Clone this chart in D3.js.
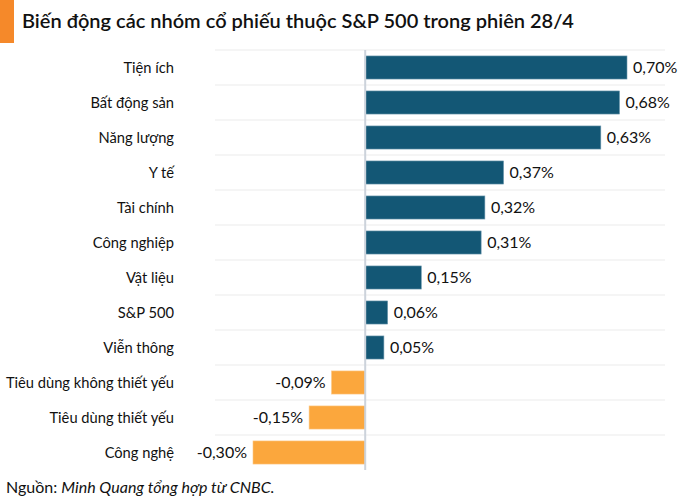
<!DOCTYPE html>
<html>
<head>
<meta charset="utf-8">
<script src="https://cdn.jsdelivr.net/npm/d3@7"></script>
<style>
  body { margin: 0; background: #fff; }
  svg { font-family: Lato, "Open Sans", sans-serif; }
</style>
</head>
<body>
<div id="chart"></div>
<script>
var svgWidth = 700;
var svgHeight = 503;

var categories = ["Tiện ích", "Bất động sản", "Năng lượng", "Y tế", "Tài chính", "Công nghiệp",
  "Vật liệu", "S&P 500", "Viễn thông", "Tiêu dùng không thiết yếu", "Tiêu dùng thiết yếu", "Công nghệ"];
var values = [0.70, 0.68, 0.63, 0.37, 0.32, 0.31, 0.15, 0.06, 0.05, -0.09, -0.15, -0.30];
var valueLabels = ["0,70%", "0,68%", "0,63%", "0,37%", "0,32%", "0,31%", "0,15%", "0,06%", "0,05%",
  "-0,09%", "-0,15%", "-0,30%"];

var data = categories.map((c, i) => ({ name: c, value: values[i], label: valueLabels[i] }));

var margin = { top: 50, bottom: 33, gridLeft: 215, gridRight: 665 };

var svg = d3.select("#chart")
  .append("svg")
  .attr("width", svgWidth)
  .attr("height", svgHeight);

// title block
svg.append("rect")
  .attr("x", 0).attr("y", 0)
  .attr("width", 14).attr("height", 43)
  .attr("fill", "#f5892a");

svg.append("text")
  .attr("x", 22).attr("y", 28)
  .attr("font-size", 20)
  .attr("font-weight", 600)
  .attr("fill", "#111")
  .text("Biến động các nhóm cổ phiếu thuộc S&P 500 trong phiên 28/4");

// scales
var x = d3.scaleLinear()
  .domain([-0.30, 0.70])
  .range([253, 627]);

var y = d3.scaleBand()
  .domain(categories)
  .range([margin.top, svgHeight - margin.bottom])
  .paddingInner(0.34)
  .paddingOuter(0.17);

var step = y.step();

// grid lines between rows
var gridYs = d3.range(categories.length).map(i => margin.top + i * step);
svg.append("g")
  .selectAll("line")
  .data(gridYs)
  .enter()
  .append("line")
  .attr("x1", margin.gridLeft)
  .attr("x2", margin.gridRight)
  .attr("y1", d => d)
  .attr("y2", d => d)
  .attr("stroke", "#ebebeb")
  .attr("stroke-width", 1);

// bars
svg.append("g")
  .selectAll("rect")
  .data(data)
  .enter()
  .append("rect")
  .attr("x", d => x(Math.min(0, d.value)))
  .attr("y", d => y(d.name))
  .attr("width", d => Math.abs(x(d.value) - x(0)))
  .attr("height", y.bandwidth())
  .attr("fill", d => d.value >= 0 ? "#135775" : "#fba73d")
  .attr("stroke", d => d.value >= 0 ? "#6f9ab0" : "#fcc783")
  .attr("stroke-width", 0.6);

// zero line
svg.append("line")
  .attr("x1", x(0)).attr("x2", x(0))
  .attr("y1", margin.top)
  .attr("y2", svgHeight - margin.bottom)
  .attr("stroke", "#ccd3db")
  .attr("stroke-width", 2);

// category labels
svg.append("g")
  .selectAll("text")
  .data(data)
  .enter()
  .append("text")
  .attr("x", 174)
  .attr("y", d => y(d.name) + y.bandwidth() / 2)
  .attr("dy", "0.35em")
  .attr("text-anchor", "end")
  .attr("font-size", 14.7)
  .attr("fill", "#111")
  .text(d => d.name);

// value labels
svg.append("g")
  .selectAll("text")
  .data(data)
  .enter()
  .append("text")
  .attr("x", d => d.value >= 0 ? x(d.value) + 6 : x(d.value) - 6)
  .attr("y", d => y(d.name) + y.bandwidth() / 2)
  .attr("dy", "0.35em")
  .attr("text-anchor", d => d.value >= 0 ? "start" : "end")
  .attr("font-size", 16)
  .attr("fill", "#111")
  .text(d => d.label);

// source
var src = svg.append("text")
  .attr("x", 6).attr("y", 493)
  .attr("font-size", 16)
  .attr("fill", "#111");
src.append("tspan").text("Nguồn: ");
src.append("tspan").attr("font-style", "italic").text("Minh Quang tổng hợp từ CNBC.");
</script>
</body>
</html>
